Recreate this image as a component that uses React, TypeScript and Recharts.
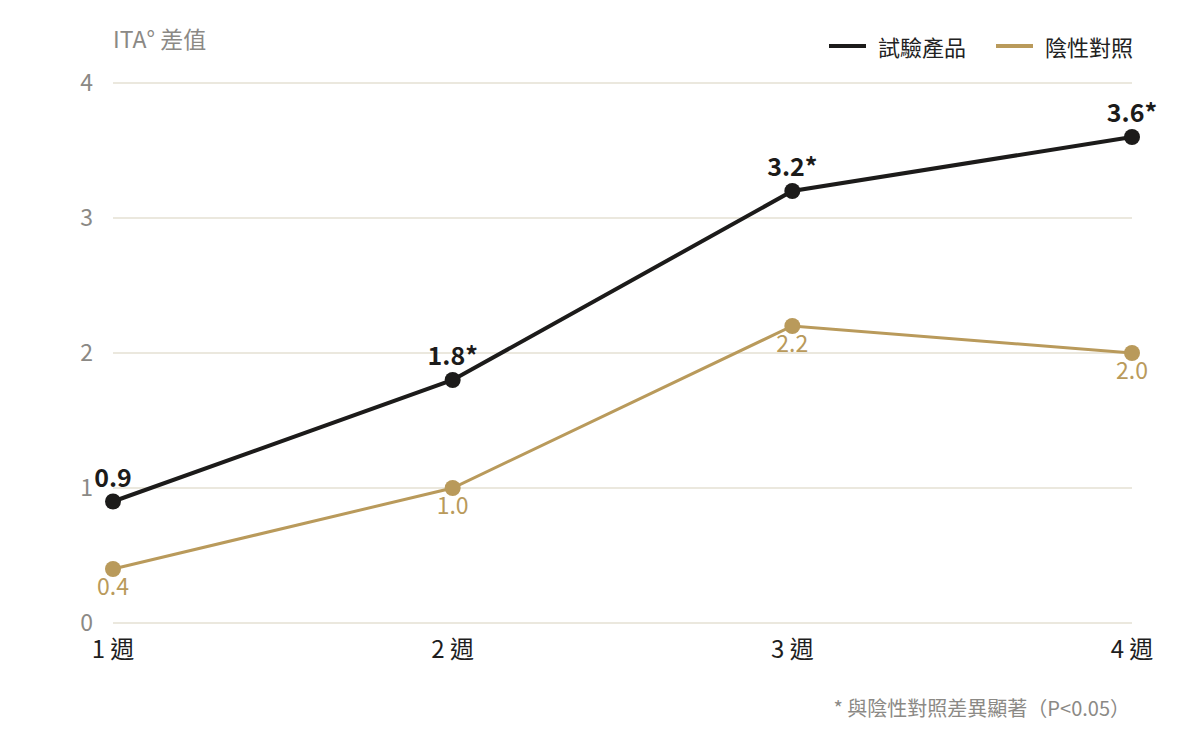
import React from "react";
import {
  LineChart,
  Line,
  XAxis,
  YAxis,
  CartesianGrid,
  LabelList,
} from "recharts";

const weeks = ["1 週", "2 週", "3 週", "4 週"];
const productValues = [0.9, 1.8, 3.2, 3.6];
const controlValues = [0.4, 1.0, 2.2, 2.0];
const significant = [false, true, true, true];
const yTicks = [0, 1, 2, 3, 4];

const FONT = '"Noto Sans CJK TC", "Noto Sans", sans-serif';
const BLACK = "#1c1b1a";
const GOLD = "#b99a5b";
const GRID = "#e4e0d3";
const GREY = "#8b8985";

const data = weeks.map((week, i) => ({
  week,
  product: productValues[i],
  control: controlValues[i],
  productLabel: productValues[i].toFixed(1) + (significant[i] ? "*" : ""),
}));

const legendItems = [
  { name: "試驗產品", color: BLACK },
  { name: "陰性對照", color: GOLD },
];

function ChartLegend() {
  return (
    <div
      style={{
        position: "absolute",
        right: 67,
        top: 31,
        display: "flex",
        alignItems: "center",
        fontFamily: FONT,
      }}
    >
      {legendItems.map((item, i) => (
        <div
          key={item.name}
          style={{
            display: "flex",
            alignItems: "center",
            marginLeft: i === 0 ? 0 : 30,
          }}
        >
          <span
            style={{
              display: "inline-block",
              width: 37,
              height: 4,
              background: item.color,
              marginRight: 12,
            }}
          />
          <span style={{ fontSize: 22, color: "#222", lineHeight: "30px" }}>
            {item.name}
          </span>
        </div>
      ))}
    </div>
  );
}

export default function App() {
  return (
    <div
      style={{
        position: "absolute",
        left: 0,
        top: 0,
        width: 1200,
        height: 750,
        background: "#fff",
        fontFamily: FONT,
      }}
    >
      <div
        style={{
          position: "absolute",
          left: 113,
          top: 23,
          fontSize: 23,
          color: GREY,
          lineHeight: "30px",
        }}
      >
        ITA° 差值
      </div>
      <ChartLegend />
      <LineChart
        width={1200}
        height={750}
        data={data}
        margin={{ top: 83, right: 68, left: 0, bottom: 67 }}
      >
        <CartesianGrid vertical={false} stroke={GRID} strokeWidth={1.5} />
        <XAxis
          dataKey="week"
          axisLine={false}
          tickLine={false}
          height={60}
          tickMargin={12}
          tick={{ fontSize: 24, fill: "#1e1e1e", fontFamily: FONT }}
        />
        <YAxis
          domain={[0, 4]}
          ticks={yTicks}
          width={113}
          axisLine={false}
          tickLine={false}
          tickMargin={14}
          tick={{ fontSize: 23, fill: GREY, fontFamily: FONT }}
        />
        <Line
          type="linear"
          dataKey="control"
          name="陰性對照"
          stroke={GOLD}
          strokeWidth={3}
          dot={{ r: 8, fill: GOLD, stroke: GOLD, strokeWidth: 0 }}
          activeDot={false}
          isAnimationActive={false}
        >
          <LabelList
            dataKey="control"
            position="bottom"
            offset={10}
            formatter={(v: number) => v.toFixed(1)}
            style={{ fontSize: 23, fill: GOLD, fontFamily: FONT }}
          />
        </Line>
        <Line
          type="linear"
          dataKey="product"
          name="試驗產品"
          stroke={BLACK}
          strokeWidth={4}
          dot={{ r: 8, fill: BLACK, stroke: BLACK, strokeWidth: 0 }}
          activeDot={false}
          isAnimationActive={false}
        >
          <LabelList
            dataKey="productLabel"
            position="top"
            offset={15}
            style={{
              fontSize: 25,
              fontWeight: 700,
              fill: BLACK,
              fontFamily: FONT,
            }}
          />
        </Line>
      </LineChart>
      <div
        style={{
          position: "absolute",
          right: 70,
          top: 694,
          fontSize: 20,
          color: GREY,
          lineHeight: "28px",
        }}
      >
        * 與陰性對照差異顯著（P&lt;0.05）
      </div>
    </div>
  );
}
